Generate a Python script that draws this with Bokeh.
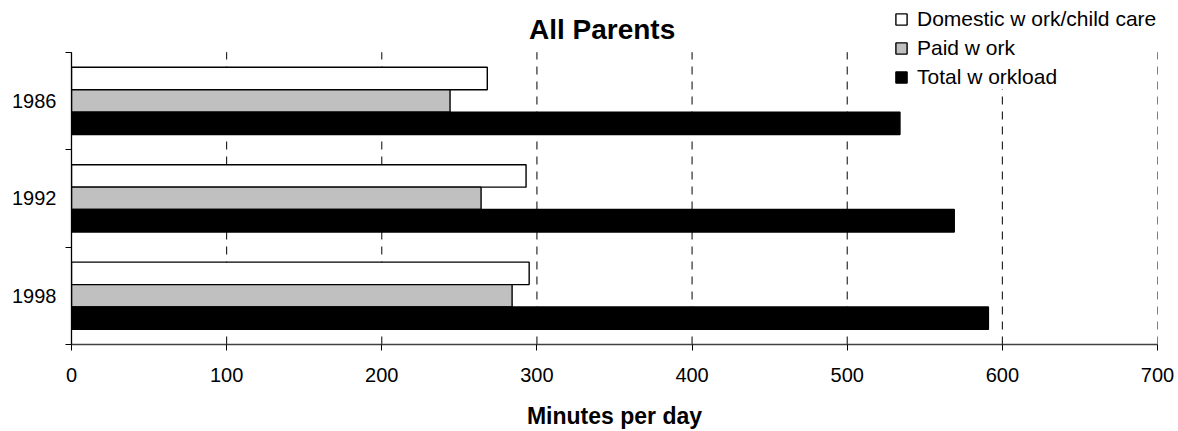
from bokeh.plotting import figure
from bokeh.models import Range1d, FixedTicker, Label, LinearAxis
from bokeh.embed import file_html
from bokeh.resources import INLINE

# Time use of all parents, minutes per day
years = ["1986", "1992", "1998"]
domestic = [268, 293, 295]
paid = [244, 264, 284]
total = [534, 569, 591]

series = [
    ("Domestic w ork/child care", domestic, "#FFFFFF"),
    ("Paid w ork", paid, "#C0C0C0"),
    ("Total w orkload", total, "#000000"),
]
x_ticks = [0, 100, 200, 300, 400, 500, 600, 700]

FONT = "Liberation Sans"
n = len(years)
# first year at the top: category i occupies [n-1-i, n-i]
centers = [n - 0.5 - i for i in range(n)]
bar_h = 0.23
offsets = [bar_h, 0.0, -bar_h]
# headroom above the categories for the title and legend
y_top = n + 0.5306

p = figure(
    width=1178, height=431,
    x_range=Range1d(0, 700), y_range=Range1d(0, y_top),
    output_backend="svg", toolbar_location=None,
    min_border_left=71, min_border_right=21,
    min_border_top=0, min_border_bottom=85,
    x_axis_type=None, y_axis_type=None,
)
p.outline_line_color = None
p.background_fill_color = "white"
p.border_fill_color = "white"
p.xgrid.visible = False
p.ygrid.visible = False

# dashed vertical grid lines spanning the category area only
p.segment(x0=x_ticks, x1=x_ticks, y0=[0] * len(x_ticks), y1=[n] * len(x_ticks),
          line_color="black", line_width=1, line_dash="8 7")

for (name, vals, color), off in zip(series, offsets):
    ys = [c + off for c in centers]
    p.hbar(y=ys, right=vals, left=0, height=bar_h,
           fill_color=color, line_color="black", line_width=1.4,
           legend_label=name)

# x axis
xaxis = LinearAxis(ticker=FixedTicker(ticks=x_ticks, minor_ticks=[]))
xaxis.axis_line_color = "#404040"
xaxis.axis_line_width = 1.3
xaxis.major_tick_line_color = "black"
xaxis.major_tick_out = 6
xaxis.major_tick_in = 0
xaxis.major_label_standoff = 17
xaxis.major_label_text_font = FONT
xaxis.major_label_text_font_size = "20px"
xaxis.major_label_text_color = "black"
xaxis.axis_label = "Minutes per day"
xaxis.axis_label_text_font = FONT
xaxis.axis_label_text_font_size = "23px"
xaxis.axis_label_text_font_style = "bold"
xaxis.axis_label_text_color = "black"
xaxis.axis_label_standoff = 18
p.add_layout(xaxis, "below")

# y axis: year labels at group centres, tick marks between groups
yaxis = LinearAxis(ticker=FixedTicker(ticks=centers,
                                      minor_ticks=list(range(n + 1))),
                   bounds=(0, n))
yaxis.major_label_overrides = {c: y for c, y in zip(centers, years)}
yaxis.axis_line_color = "black"
yaxis.axis_line_width = 1.3
yaxis.major_tick_line_color = None
yaxis.major_tick_out = 0
yaxis.major_tick_in = 0
yaxis.minor_tick_line_color = "black"
yaxis.minor_tick_out = 6
yaxis.minor_tick_in = 0
yaxis.major_label_standoff = 9
yaxis.major_label_text_font = FONT
yaxis.major_label_text_font_size = "20px"
yaxis.major_label_text_color = "black"
p.add_layout(yaxis, "left")

p.add_layout(Label(x=342, y=3.235, text="All Parents", text_align="center",
                   text_baseline="middle", text_font=FONT,
                   text_font_size="28px", text_font_style="bold",
                   text_color="black"))

lg = p.legend[0]
lg.location = (823, 255)
lg.orientation = "vertical"
lg.padding = 10
lg.margin = 0
lg.spacing = 5
lg.glyph_width = 14
lg.glyph_height = 14
lg.label_height = 23
lg.label_standoff = 9
lg.label_text_font = FONT
lg.label_text_font_size = "21px"
lg.label_text_color = "black"
lg.border_line_color = None
lg.background_fill_color = "white"
lg.background_fill_alpha = 1.0

open("out.html", "w").write(file_html(p, INLINE))
